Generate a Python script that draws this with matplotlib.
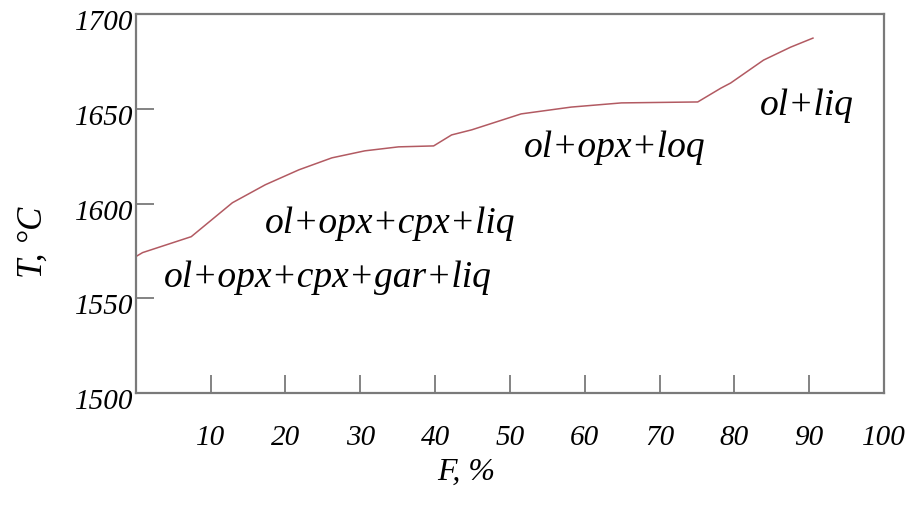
import matplotlib
matplotlib.use("Agg")
import matplotlib.pyplot as plt
import matplotlib.transforms as mtransforms

# melt fraction F (%) vs temperature T (deg C)
F = [0.0, 0.9, 7.4, 12.9, 17.3, 21.8, 26.2, 30.6, 35.1, 39.8,
     42.2, 44.9, 51.5, 58.2, 64.9, 75.1,
     78.2, 79.5, 83.9, 87.5, 90.5]
T = [1572.1, 1574.2, 1582.6, 1600.5, 1610.0, 1617.9, 1624.2, 1627.9, 1630.0, 1630.5,
     1636.3, 1639.0, 1647.4, 1651.0, 1653.2, 1653.7,
     1661.0, 1663.7, 1675.8, 1682.6, 1687.4]

xticks = [10, 20, 30, 40, 50, 60, 70, 80, 90, 100]
yticks = [1500, 1550, 1600, 1650, 1700]

# phase-field labels: text, F at left edge, T at baseline
field_labels = ["ol+opx+cpx+gar+liq", "ol+opx+cpx+liq", "ol+opx+loq", "ol+liq"]
field_F = [3.8, 17.3, 51.8, 83.4]
field_T = [1556.3, 1584.7, 1624.7, 1646.8]

plt.rcParams["font.family"] = ["Liberation Serif", "DejaVu Serif"]
plt.rcParams["font.style"] = "italic"

fig = plt.figure(figsize=(9.18, 5.08), dpi=100)
ax = fig.add_axes([0.148, 0.226, 0.815, 0.746])

ax.plot(F, T, color="#b25a62", lw=1.1)

ax.set_xlim(0, 100)
ax.set_ylim(1500, 1700)
ax.set_xticks(xticks)
ax.set_xticklabels([str(v) for v in xticks])
ax.set_yticks(yticks)
ax.set_yticklabels([str(v) for v in yticks])

for s in ax.spines.values():
    s.set_color("#7a7a7a")
    s.set_linewidth(1.6)

ax.tick_params(axis="x", direction="in", length=13, width=1.3, color="#7a7a7a",
               labelsize=21, pad=23)
ax.tick_params(axis="y", direction="in", length=13, width=1.3, color="#7a7a7a",
               labelsize=21, pad=2)

# y labels sit a little below their ticks in the original
shift = mtransforms.ScaledTranslation(0, -6 / 100, fig.dpi_scale_trans)
for lab in ax.get_yticklabels():
    lab.set_transform(lab.get_transform() + shift)

for txt, fx, ty in zip(field_labels, field_F, field_T):
    ax.text(fx, ty, txt, fontsize=27, ha="left", va="baseline")

fig.text(0.036, 0.522, "T, °C", rotation=90, fontsize=25, ha="center", va="center")
fig.text(0.508, 0.07, "F, %", fontsize=23, ha="center", va="center")

fig.savefig("out.png", dpi=100)
